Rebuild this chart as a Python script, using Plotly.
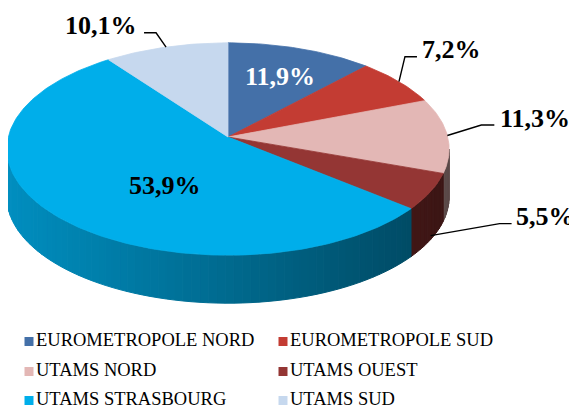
import math
import plotly.graph_objects as go

# ---- data ----
categories = ["EUROMETROPOLE NORD", "EUROMETROPOLE SUD", "UTAMS NORD",
              "UTAMS OUEST", "UTAMS STRASBOURG", "UTAMS SUD"]
shares = [11.9, 7.2, 11.3, 5.5, 53.9, 10.1]

# ---- styles ----
colors = ["#4470A8", "#C33C33", "#E3B7B5", "#943634", "#00AEEA", "#C6D8EE"]
label_font_colors = ["#FFFFFF", "#000000", "#000000", "#000000", "#000000", "#000000"]
# label placement: ("in", frac, dx, dy) or
# ("out", anchor_dy, elbow_dx, elbow_dy, tail_len, text_dx, text_dy)
label_place = [
    ("in", 0.70, 0, 3.5),
    ("out", 0, 6, -25, 12, 3, -7.5),
    ("out", 0, 34, -10.5, 13, 4, -6.5),
    ("out", 44, 69, -12, 12, 2, -7),
    ("in", 0.38, -1, 20),
    ("out", 0, -10, -14.3, -12, -5, -7),
]

W, H = 577, 408
PAGE_OFF = 8  # page body margin of the browser
# perspective pie geometry (pixels)
CX, AY, FOC, DIST, COSA, SINA, DEPTH = 228, 137, 1705, 7.76, 0.879, 0.477, 48
SERIF = "Liberation Serif, Times New Roman, serif"


def rim(theta, frac=1.0, dy=0.0):
    t = math.radians(theta)
    den = DIST + COSA * frac * math.cos(t)
    return (CX + FOC * frac * math.sin(t) / den,
            AY - FOC * SINA * frac * math.cos(t) / den + dy)


def shade(hexcol, f):
    h = hexcol.lstrip("#")
    r, g, b = (int(h[i:i + 2], 16) for i in (0, 2, 4))
    return "rgb(%d,%d,%d)" % (min(255, r * f), min(255, g * f), min(255, b * f))


total = sum(shares)
bounds = []
acc = 0.0
for v in shares:
    a0 = acc / total * 360
    acc += v
    bounds.append((a0, acc / total * 360))

# silhouette angles of the side wall
sil = math.degrees(math.acos(-COSA / DIST))
vis_lo, vis_hi = sil, 360 - sil

fig = go.Figure()

# ---- side walls (front half only) ----
for i, (a0, a1) in enumerate(bounds):
    lo, hi = max(a0, vis_lo), min(a1, vis_hi)
    if lo >= hi:
        continue
    n = max(1, int(math.ceil((hi - lo) / 2.0)))
    for k in range(n):
        s = lo + (hi - lo) * k / n
        e = lo + (hi - lo) * (k + 1) / n
        top = [rim(s), rim(e)]
        bot = [rim(e, dy=DEPTH), rim(s, dy=DEPTH)]
        pts = top + bot + [top[0]]
        xm = rim((s + e) / 2)[0]
        f = 0.44 + 0.38 * (408 - xm) / 401
        f = max(0.36, min(0.84, f))
        col = shade(colors[i], f)
        fig.add_trace(go.Scatter(
            x=[p[0] for p in pts], y=[p[1] for p in pts],
            mode="lines", fill="toself", fillcolor=col,
            line=dict(color=col, width=1), hoverinfo="skip", showlegend=False))

# ---- top faces ----
for i, (a0, a1) in enumerate(bounds):
    n = max(2, int(math.ceil((a1 - a0) / 1.0)))
    pts = [(CX, AY)] + [rim(a0 + (a1 - a0) * k / n) for k in range(n + 1)] + [(CX, AY)]
    fig.add_trace(go.Scatter(
        x=[p[0] for p in pts], y=[p[1] for p in pts],
        mode="lines", fill="toself", fillcolor=colors[i],
        line=dict(color=colors[i], width=0.8), name=categories[i],
        hoveron="fills", hoverinfo="name", showlegend=False))

# ---- data labels ----
annotations = []
for i, (a0, a1) in enumerate(bounds):
    mid = (a0 + a1) / 2
    txt = ("%.1f" % shares[i]).replace(".", ",") + "%"
    pl = label_place[i]
    font = dict(family=SERIF, size=26, color=label_font_colors[i])
    if pl[0] == "in":
        x, y = rim(mid, frac=pl[1])
        annotations.append(dict(x=x + pl[2], y=y + pl[3], xref="x", yref="y",
                                text="<b>%s</b>" % txt, showarrow=False, font=font,
                                xanchor="center", yanchor="middle"))
    else:
        _, ady, edx, edy, tail, tdx, tdy = pl
        ax_, ay_ = rim(mid, dy=ady)
        ex, ey = ax_ + edx, ay_ + edy
        tx, ty = ex + tail, ey
        fig.add_trace(go.Scatter(x=[ax_, ex, tx], y=[ay_, ey, ty], mode="lines",
                                 line=dict(color="#000000", width=1.4),
                                 hoverinfo="skip", showlegend=False))
        annotations.append(dict(x=tx + tdx, y=ty + tdy, xref="x", yref="y",
                                text="<b>%s</b>" % txt, showarrow=False, font=font,
                                xanchor="left" if tail > 0 else "right",
                                yanchor="middle"))

# ---- legend (two columns, three rows) ----
leg_cols = [29, 283]
leg_rows = [340, 370, 399]
for i, name in enumerate(categories):
    lx = leg_cols[i % 2]
    ly = leg_rows[i // 2]
    fig.add_trace(go.Scatter(x=[lx], y=[ly + 1.5], mode="markers",
                             marker=dict(symbol="square", size=9, color=colors[i],
                                         line=dict(width=0)),
                             name=name, hoverinfo="name", showlegend=False))
    annotations.append(dict(x=lx + 5, y=ly, xref="x", yref="y", text=name,
                            showarrow=False, xanchor="left", yanchor="middle",
                            font=dict(family=SERIF, size=18.5, color="#000000")))

fig.update_layout(
    width=W - PAGE_OFF, height=H - PAGE_OFF, autosize=False,
    margin=dict(l=0, r=0, t=0, b=0),
    paper_bgcolor="#FFFFFF", plot_bgcolor="#FFFFFF",
    xaxis=dict(range=[PAGE_OFF, W], visible=False, fixedrange=True),
    yaxis=dict(range=[H, PAGE_OFF], visible=False, fixedrange=True),
    annotations=annotations,
    showlegend=False,
)

fig.write_html("out.html")
